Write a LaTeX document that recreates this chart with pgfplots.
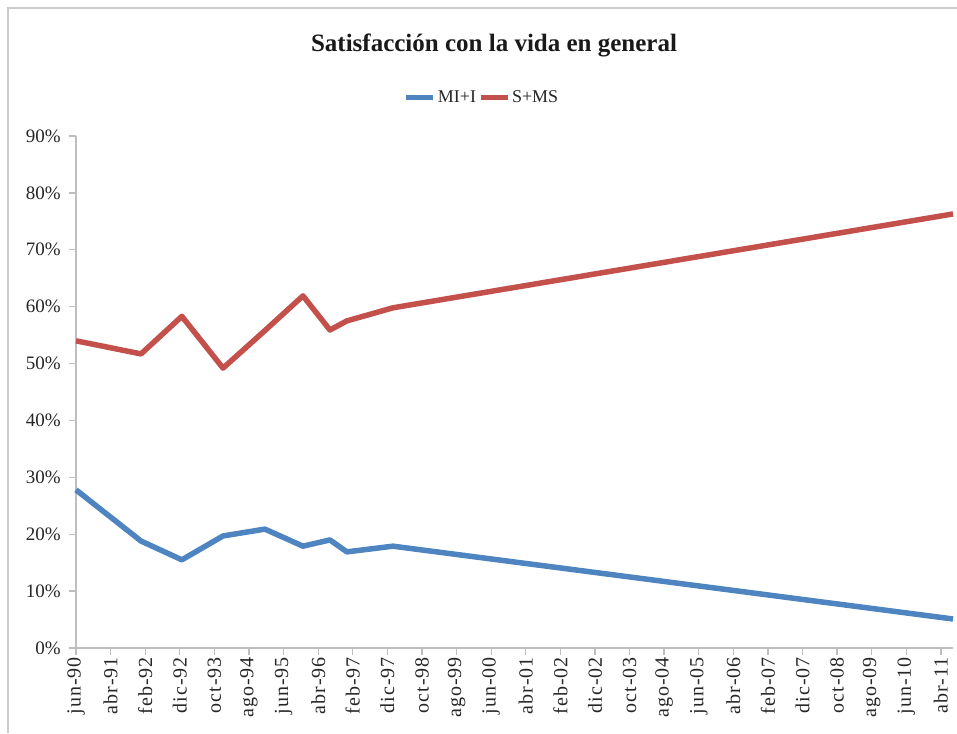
\documentclass[border=0pt]{standalone}
\usepackage{fontspec}
\setmainfont{Liberation Serif}
\newfontfamily\tickfont[LetterSpace=5]{Liberation Serif}
\usepackage{pgfplots}
\pgfplotsset{compat=1.18}
\definecolor{miblue}{RGB}{78,132,192}
\definecolor{msred}{RGB}{196,80,76}
\definecolor{axgray}{RGB}{190,190,190}
\begin{document}
\begin{tikzpicture}
\path[use as bounding box] (0,0) rectangle (957pt,-733pt);
\draw[axgray!80, line width=1.5pt] (8pt,-733pt) -- (8pt,-8pt) -- (957pt,-8pt);
\node[font=\fontsize{25}{30}\selectfont\bfseries, text=black!90] at (494pt,-45pt) {Satisfacción con la vida en general};
\begin{axis}[
  at={(76pt,-648pt)}, anchor=south west, scale only axis,
  width=877pt, height=512pt,
  xmin=0, xmax=253.5, ymin=0, ymax=90,
  clip=false,
  axis x line=bottom, axis y line=left,
  axis line style={-, axgray, line width=1.3pt},
  tick align=outside, major tick length=7pt,
  tick style={axgray, line width=1.3pt},
  xtick={0,10,...,250},
  xticklabels={jun-90,abr-91,feb-92,dic-92,oct-93,ago-94,jun-95,abr-96,feb-97,dic-97,oct-98,ago-99,jun-00,abr-01,feb-02,dic-02,oct-03,ago-04,jun-05,abr-06,feb-07,dic-07,oct-08,ago-09,jun-10,abr-11},
  xticklabel style={rotate=90, anchor=east, font=\tickfont\fontsize{20}{24}\selectfont, text=black!85, inner sep=2pt},
  ytick={0,10,...,90},
  yticklabel={\pgfmathprintnumber{\tick}\%},
  yticklabel style={font=\fontsize{19}{24}\selectfont, text=black!85, inner sep=2pt, xshift=-6pt},
  /pgf/number format/assume math mode=true,
  legend style={at={(0.463,1.076)}, anchor=center, draw=none, fill=none,
    legend columns=2, font=\fontsize{18}{22}\selectfont, text=black!85,
    /tikz/every even column/.append style={column sep=0pt}},
  legend image code/.code={\draw[#1, line width=5pt] (0pt,0pt) -- (27pt,0pt);},
]
\addplot[miblue, line width=5.5pt, line join=round] coordinates {
 (0,27.8) (18.8,18.8) (30.6,15.5) (42.5,19.7) (54.6,20.9) (65.6,17.9)
 (73.4,19.0) (78.3,16.9) (91.6,17.9) (253.5,5.1)};
\addlegendentry{MI+I}
\addplot[msred, line width=5.5pt, line join=round] coordinates {
 (0,54.0) (18.8,51.7) (30.6,58.3) (42.5,49.2) (54.6,55.8) (65.6,61.9)
 (73.4,55.9) (78.3,57.5) (91.6,59.8) (253.5,76.3)};
\addlegendentry{S+MS}
\end{axis}
\end{tikzpicture}
\end{document}
